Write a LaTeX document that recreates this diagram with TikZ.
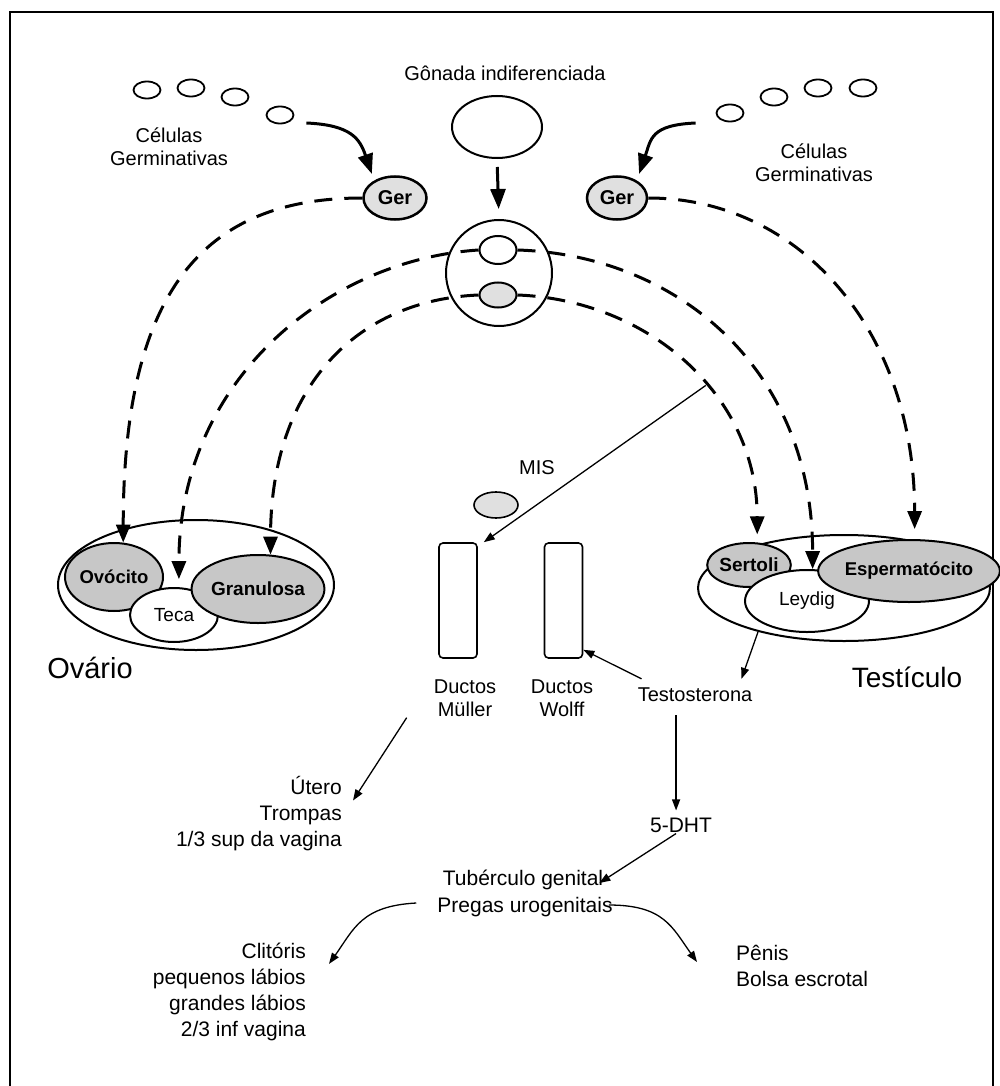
\documentclass[tikz,border=0pt]{standalone}
\usepackage{fontspec}
\setmainfont{Liberation Sans}
\usetikzlibrary{%
  arrows.meta,
  calc,
  shapes.geometric
}

\tikzset{
  celula/.style={draw, ellipse, line width=1.8pt, inner sep=0pt,
                 minimum width=27pt, minimum height=17pt},
  corpo/.style={draw, ellipse, line width=2pt, inner sep=0pt, fill=white},
  pontilhado/.style={corpo, fill=black!22},
  grossa/.style={line width=3pt, -{Triangle[length=20pt,width=15pt]}},
  tracejado/.style={line width=3pt, dash pattern=on 18pt off 12pt,
                    -{Triangle[length=18pt,width=14pt]}},
  fina/.style={line width=1.3pt, -{Triangle[length=11pt,width=8pt]}},
  duto/.style={draw, line width=1.6pt, rounded corners=4pt,
               minimum width=38pt, minimum height=115pt},
  rotulo/.style={inner sep=1pt, align=center},
  baixo/.style={inner sep=1pt, font=\fontsize{21}{26}\selectfont}
}

\begin{document}
\begin{tikzpicture}[x=1pt, y=-1pt, font=\fontsize{20}{23}\selectfont]

  \useasboundingbox (0,0) rectangle (1000,1086);
  \draw[line width=2.5pt] (10,1090) -- (10,12) -- (993,12) -- (993,1090);

  \node[celula] (celL1) at (147,90) {};
  \node[celula] (celL2) at (191,88) {};
  \node[celula] (celL3) at (235,97) {};
  \node[celula] (celL4) at (280,115) {};
  \node[celula] (celR1) at (730,113) {};
  \node[celula] (celR2) at (774,97) {};
  \node[celula] (celR3) at (818,88) {};
  \node[celula] (celR4) at (863,88) {};
  \node[rotulo] (celulasL) at (169,147) {Células\\Germinativas};
  \node[rotulo] (celulasR) at (814,163) {Células\\Germinativas};

  \node[pontilhado, line width=2.5pt, fill=black!12, minimum width=63pt,
        minimum height=43pt, font=\fontsize{20}{23}\bfseries] (gerL) at (395,198) {Ger};
  \node[pontilhado, line width=2.5pt, fill=black!12, minimum width=60pt,
        minimum height=43pt, font=\fontsize{20}{23}\bfseries] (gerR) at (617,198) {Ger};

  \node[rotulo] (gonadalbl) at (505,73) {Gônada indiferenciada};
  \node[corpo, minimum width=90pt, minimum height=62pt] (gonada) at (497,127) {};
  \node[draw, circle, line width=2pt, minimum size=106pt] (circulo) at (499,273) {};
  \node[corpo, minimum width=37pt, minimum height=28pt] (topin) at (498,250) {};
  \node[pontilhado, fill=black!12, minimum width=37pt, minimum height=25pt] (botin) at (498,295) {};

  \node[corpo, minimum width=276pt, minimum height=130pt] (ovario) at (196,585) {};
  \node[pontilhado, minimum width=98pt, minimum height=68pt,
        font=\fontsize{18.5}{22}\bfseries] (ovocito) at (114,577) {Ovócito};
  \node[corpo, minimum width=88pt, minimum height=54pt,
        font=\fontsize{19}{22}\selectfont] (teca) at (174,615) {Teca};
  \node[pontilhado, minimum width=116pt, minimum height=68pt,
        font=\fontsize{19}{22}\bfseries] (granulosa) at (258,589) {Granulosa};
  \node[inner sep=1pt, font=\fontsize{29}{32}\selectfont] (ovariolbl) at (90,668) {Ovário};

  \node[corpo, minimum width=292pt, minimum height=106pt] (testis) at (844,588) {};
  \node[pontilhado, minimum width=82pt, minimum height=44pt,
        font=\fontsize{19}{22}\bfseries] (sertoli) at (749,565) {Sertoli};
  \node[corpo, minimum width=124pt, minimum height=62pt,
        font=\fontsize{19}{22}\selectfont] (leydig) at (807,601) {Leydig};
  \node[pontilhado, minimum width=158pt, minimum height=62pt,
        font=\fontsize{18.5}{22}\bfseries] (sperm) at (909,571) {Espermatócito};
  \node[inner sep=1pt, font=\fontsize{28}{32}\selectfont] (testislbl) at (907,677) {Testículo};

  \node[rotulo] (mislbl) at (537,468) {MIS};
  \node[pontilhado, fill=black!12, line width=1.6pt, minimum width=44pt,
        minimum height=26pt] (mis) at (496,505) {};

  \node[duto] (muller) at (458,600.5) {};
  \node[duto] (wolff) at (563.5,600.5) {};
  \node[rotulo] (mullerlbl) at (465,698) {Ductos\\Müller};
  \node[rotulo] (wolfflbl) at (562,698) {Ductos\\Wolff};
  \node[rotulo] (testo) at (695,695) {Testosterona};

  \node[baixo, align=right, anchor=east] (utero) at (343,814)
       {Útero\\Trompas\\1/3 sup da vagina};
  \node[baixo] (dht) at (681,825) {5-DHT};
  \node[baixo] (tub) at (523,880) {Tubérculo genital};
  \node[baixo] (pregas) at (525,907) {Pregas urogenitais};
  \node[baixo, align=right, anchor=east] (clit) at (307,992)
       {Clitóris\\pequenos lábios\\grandes lábios\\2/3 inf vagina};
  \node[baixo, align=left, anchor=west] (penis) at (735,966)
       {Pênis\\Bolsa escrotal};

  \draw[grossa] ($(celL4.east)+(12,8)$) .. controls +(45,2) and +(-12,-35) .. ($(gerL.north west)+(0,-8)$);
  \draw[grossa] ($(celR1.west)+(-20,10)$) .. controls +(-45,2) and +(12,-35) .. ($(gerR.north east)+(0,-8)$);
  \draw[grossa, shorten <=8pt, shorten >=10pt] (gonada.south) -- (circulo.north);

  \draw[tracejado] (gerL.west) .. controls +(-160,0) and +(0,-250) .. (ovocito.75);
  \draw[tracejado] (topin.west) .. controls +(-150,10) and +(0,-200) .. ($(teca.80)+(0,-8)$);
  \draw[tracejado] (botin.west) .. controls +(-120,5) and +(0,-170) .. (granulosa.70);
  \draw[tracejado] (gerR.east) .. controls +(150,0) and +(0,-200) .. ($(sperm.80)+(0,-10)$);
  \draw[tracejado] (topin.east) .. controls +(160,5) and +(0,-200) .. (leydig.80);
  \draw[tracejado] (botin.east) .. controls +(130,5) and +(0,-140) .. coordinate[pos=.58] (misorigem) ($(sertoli.70)+(0,-8)$);

  \draw[fina] (misorigem) -- ($(muller.north east)+(6,0)$);
  \draw[fina] ($(testo.north west)+(5,-8)$) -- ($(wolff.south east)+(0,-9)$);
  \draw[fina] (testis.207) -- ($(testo.north east)+(-12,-8)$);
  \draw[fina] ($(mullerlbl.south west)+(-26,0)$) -- ($(utero.north east)+(10,25)$);
  \draw[fina, shorten <=12pt, shorten >=6pt] (testo.south -| dht.240) -- (dht.240 |- dht.north);
  \draw[fina] (dht.240) -- ($(tub.east)+(-5,3)$);
  \draw[fina] ($(pregas.west)+(-20,-4)$) .. controls +(-55,3) and +(25,-35) .. ($(clit.north east)+(22,22)$);
  \draw[fina] ($(pregas.east)+(-5,-2)$) .. controls +(55,0) and +(-25,-35) .. ($(penis.west)+(-38,-4)$);

\end{tikzpicture}
\end{document}
